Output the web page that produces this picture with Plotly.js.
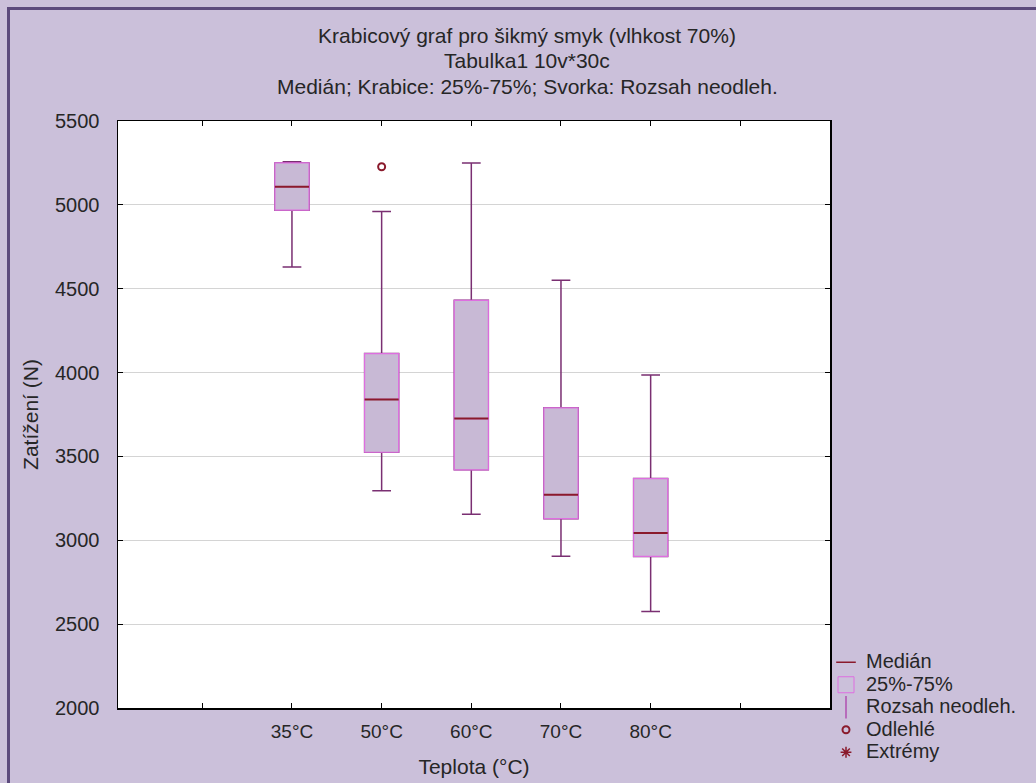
<!DOCTYPE html>
<html>
<head>
<meta charset="utf-8">
<script src="https://cdn.plot.ly/plotly-3.0.1.min.js"></script>
<style>
  html, body { margin: 0; padding: 0; background: #cbc0da; }
  #chart { position: absolute; left: 0; top: 0; width: 1036px; height: 783px; }
  #frame { position: absolute; left: 7px; top: 7px; width: 1040px; height: 790px;
           border-left: 3px solid #5c4a7c; border-top: 3px solid #5c4a7c; pointer-events: none; }
  #chart .legend .legendtext { font-size: 20px !important; }
  #chart .legend .scrollbox { clip-path: none !important; }
</style>
</head>
<body>
<div id="chart"></div>
<div id="frame"></div>
<script>
// ---- data ----
const categories = ['35°C', '50°C', '60°C', '70°C', '80°C'];
const whiskerLow = [4630, 3295, 3155, 2905, 2575];
const quart1    = [4968, 3525, 3420, 3129, 2904];
const medians   = [5108, 3840, 3726, 3272, 3043];
const quart3    = [5250, 4113, 4431, 3790, 3368];
const whiskerHigh = [5257, 4961, 5249, 4550, 3985];
const outlierCategory = ['50°C'];
const outlierValue = [5227];
const yTicks = [2000, 2500, 3000, 3500, 4000, 4500, 5000, 5500];

// category index positions (1..n), with empty ticks at 0 and n+1
const xs = categories.map((c, i) => i + 1);
const tickVals = [0].concat(xs, [categories.length + 1]);
const tickText = [''].concat(categories, ['']);
const outlierX = outlierCategory.map(c => categories.indexOf(c) + 1);

const FONT = 'Liberation Sans, Arial, sans-serif';
const TXT = '#262626';
const PURPLE = '#7a2f72';
const MAGENTA = '#de6ee0';
const DARKRED = '#8a1a2c';
const FILL = '#c8b9d5';
const BOXW = 0.38;

const traces = [
  // whiskers (full box geometry, purple)
  { type: 'box', x: xs, q1: quart1, median: medians, q3: quart3,
    lowerfence: whiskerLow, upperfence: whiskerHigh,
    width: BOXW, whiskerwidth: 0.55, fillcolor: FILL,
    line: { color: PURPLE, width: 1.5 }, boxpoints: false,
    hoverinfo: 'skip', showlegend: false },
  // 25%-75% box (magenta outline)
  { type: 'box', x: xs, q1: quart1, median: medians, q3: quart3,
    lowerfence: quart1, upperfence: quart3,
    width: BOXW, whiskerwidth: 0, fillcolor: FILL,
    line: { color: MAGENTA, width: 1.2 }, boxpoints: false,
    hoverinfo: 'skip', showlegend: false },
  // median line (dark red)
  { type: 'box', x: xs, q1: medians, median: medians, q3: medians,
    lowerfence: medians, upperfence: medians,
    width: BOXW, whiskerwidth: 0, fillcolor: 'rgba(0,0,0,0)',
    line: { color: DARKRED, width: 2 }, boxpoints: false,
    hoverinfo: 'skip', showlegend: false },
  // legend entries
  { type: 'scatter', mode: 'markers', x: [null], y: [null], name: 'Medián',
    marker: { symbol: 'line-ew-open', size: 14, color: DARKRED, line: { color: DARKRED, width: 1.5 } } },
  { type: 'scatter', mode: 'markers', x: [null], y: [null], name: '25%-75%',
    marker: { symbol: 'square-open', size: 17, color: MAGENTA, line: { color: MAGENTA, width: 1 } } },
  { type: 'scatter', mode: 'markers', x: [null], y: [null], name: 'Rozsah neodleh.',
    marker: { symbol: 'line-ns-open', size: 18, color: '#b04fb0', line: { color: '#b04fb0', width: 1.5 } } },
  // outliers
  { type: 'scatter', mode: 'markers', x: outlierX, y: outlierValue, name: 'Odlehlé',
    marker: { symbol: 'circle-open', size: 7, color: DARKRED, line: { color: DARKRED, width: 2 } } },
  { type: 'scatter', mode: 'markers', x: [null], y: [null], name: 'Extrémy',
    marker: { symbol: 'asterisk-open', size: 9, color: DARKRED, line: { color: DARKRED, width: 1.5 } } }
];

const layout = {
  width: 1036, height: 783,
  margin: { l: 118, r: 206, t: 121, b: 75 },
  paper_bgcolor: '#cbc0da',
  plot_bgcolor: '#ffffff',
  font: { family: FONT, size: 19, color: TXT },
  boxmode: 'overlay',
  title: { text: 'Krabicový graf pro šikmý smyk (vlhkost 70%)',
           xref: 'container', x: 527 / 1036, xanchor: 'center',
           yref: 'container', y: 1 - 36 / 783, yanchor: 'middle',
           font: { family: FONT, size: 21, color: TXT } },
  annotations: [
    { text: 'Tabulka1 10v*30c', xref: 'paper', yref: 'paper',
      x: (527 - 118) / 712, y: (708 - 61) / 587, xanchor: 'center', yanchor: 'middle',
      showarrow: false, font: { family: FONT, size: 21, color: TXT } },
    { text: 'Medián; Krabice: 25%-75%; Svorka: Rozsah neodleh.', xref: 'paper', yref: 'paper',
      x: (527 - 118) / 712, y: (708 - 86) / 587, xanchor: 'center', yanchor: 'middle',
      showarrow: false, font: { family: FONT, size: 21, color: TXT } }
  ],
  xaxis: {
    range: [-0.94, categories.length + 2.0],
    tickmode: 'array', tickvals: tickVals, ticktext: tickText,
    ticks: 'inside', ticklen: 5, tickcolor: '#000', tickwidth: 1,
    showline: true, linecolor: '#000', linewidth: 1.5, mirror: 'ticks',
    showgrid: false, zeroline: false, ticklabelstandoff: 6,
    tickfont: { family: FONT, size: 19, color: TXT },
    title: { text: 'Teplota (°C)', standoff: 18, font: { family: FONT, size: 21, color: TXT } }
  },
  yaxis: {
    range: [2000, 5500],
    tickmode: 'array', tickvals: yTicks,
    ticks: 'inside', ticklen: 5, tickcolor: '#000', tickwidth: 1,
    showline: true, linecolor: '#000', linewidth: 1.5, mirror: 'ticks',
    showgrid: true, gridcolor: '#d4d4d4', gridwidth: 1, zeroline: false,
    ticklabelstandoff: 13,
    tickfont: { family: FONT, size: 20, color: TXT },
    title: { text: 'Zatížení (N)', standoff: 10, font: { family: FONT, size: 21, color: TXT } }
  },
  legend: {
    x: (826 - 118) / 712, xanchor: 'left', y: -(769 - 708) / 587, yanchor: 'bottom',
    bgcolor: 'rgba(0,0,0,0)', borderwidth: 0, itemwidth: 30,
    font: { family: FONT, size: 15, color: TXT }, tracegroupgap: 0
  },
  showlegend: true
};

Plotly.newPlot('chart', traces, layout, { displayModeBar: false, staticPlot: true });
</script>
</body>
</html>
